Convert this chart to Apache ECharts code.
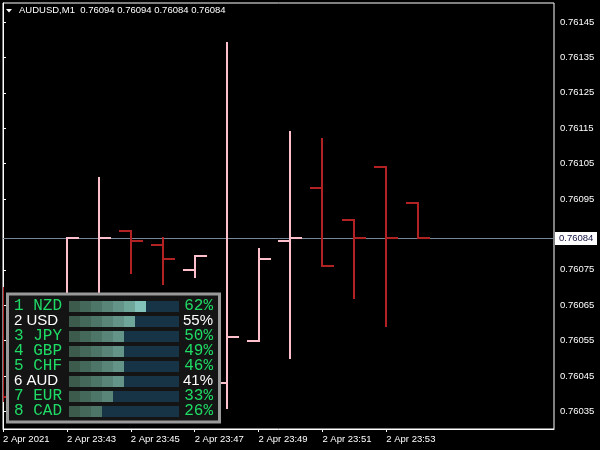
<!DOCTYPE html>
<html>
<head>
<meta charset="utf-8">
<script src="https://cdn.jsdelivr.net/npm/echarts@6/dist/echarts.min.js"></script>
<style>html,body{margin:0;padding:0;background:#000;}#c{width:600px;height:450px;}</style>
</head>
<body>
<div id="c"></div>
<script>
// ---- data ----
const times  = ["23:41","23:42","23:43","23:44","23:45","23:46","23:47","23:48","23:49","23:50","23:51","23:52","23:53","23:54"];
const opens  = [0.76068,0.76040,0.76058,0.76066,0.76086,0.76082,0.76075,0.76043,0.76055,0.76083,0.76098,0.76089,0.76104,0.76094];
const highs  = [0.76070,0.76060,0.76084,0.76101,0.76086,0.76084,0.76079,0.76139,0.76081,0.76114,0.76112,0.76089,0.76104,0.76094];
const lows   = [0.76038,0.76038,0.76057,0.76065,0.76074,0.76071,0.76073,0.76036,0.76055,0.76050,0.76076,0.76067,0.76059,0.76084];
const closes = [0.76039,0.76058,0.76084,0.76084,0.76083,0.76078,0.76079,0.76056,0.76078,0.76084,0.76076,0.76084,0.76084,0.76084];
const currentPrice = 0.76084;
const titleText = "AUDUSD,M1  0.76094 0.76094 0.76084 0.76084";

const yTickShown  = [0.76035,0.76045,0.76055,0.76065,0.76075,0.76095,0.76105,0.76115,0.76125,0.76135,0.76145];
const xTickTimes  = ["23:41","23:43","23:45","23:47","23:49","23:51","23:53"];
const xTickLabels = ["2 Apr 2021","2 Apr 23:43","2 Apr 23:45","2 Apr 23:47","2 Apr 23:49","2 Apr 23:51","2 Apr 23:53"];

const currencies = ["NZD","USD","JPY","GBP","CHF","AUD","EUR","CAD"];
const strengths  = [62,55,50,49,46,41,33,26];
const pairCurrencies = ["AUD","USD"];
const segColors = ["#3c5b4c","#44685a","#4e7668","#588577","#639487","#6fa69a","#82c2ba","#8fd0c8","#9cdcd4","#a8e6de"];

// ---- chart ----
const BULL = "#FFC0CB", BEAR = "#B22222";
const xTickIdx = xTickTimes.map(t => times.indexOf(t));
const ohlc = times.map((t, i) => [i, opens[i], highs[i], lows[i], closes[i]]);
const r = v => Math.round(v);
const richStyles = {
  g: {fontFamily: 'Liberation Mono', fontSize: 16, color: '#1fdc66'},
  w: {fontFamily: 'Liberation Sans', fontSize: 15, color: '#ffffff'}
};

const chart = echarts.init(document.getElementById('c'));
chart.setOption({
  backgroundColor: '#000',
  animation: false,
  grid: [
    {left: 2, right: 46, top: 3, bottom: 21, show: true, borderColor: '#fff', borderWidth: 1, backgroundColor: '#000', containLabel: false},
    {left: 69, width: 110, top: 298.5, height: 120, containLabel: false}
  ],
  xAxis: [
    {type: 'value', gridIndex: 0, min: 0, max: 17.25,
     splitLine: {show: false},
     axisLine: {show: true, lineStyle: {color: '#fff', width: 1}},
     axisTick: {show: true, length: 3, lineStyle: {color: '#fff'}, customValues: xTickIdx},
     axisLabel: {show: true, customValues: xTickIdx, color: '#fff', fontFamily: 'Liberation Sans', fontSize: 9.5, align: 'left', margin: 5,
       formatter: v => xTickLabels[xTickIdx.indexOf(Math.round(v))] || ''}},
    {type: 'value', gridIndex: 1, min: 0, max: 10, show: false}
  ],
  yAxis: [
    {type: 'value', gridIndex: 0, position: 'right', min: 0.7603003, max: 0.7615037,
     splitLine: {show: false},
     axisLine: {show: true, lineStyle: {color: '#fff', width: 1}},
     axisTick: {show: true, inside: false, length: 3, lineStyle: {color: '#fff'}, customValues: yTickShown},
     axisLabel: {show: true, customValues: yTickShown, color: '#fff', fontFamily: 'Liberation Sans', fontSize: 9.5, margin: 6,
       formatter: v => Number(v).toFixed(5)}},
    {type: 'category', gridIndex: 1, data: currencies, inverse: true, position: 'left', z: 20,
     axisLine: {show: false}, axisTick: {show: false}, splitLine: {show: false},
     axisLabel: {interval: 0, align: 'left', margin: 55,
       formatter: (v, i) => pairCurrencies.includes(v) ? '{w|' + (i + 1) + ' ' + v + '}' : '{g|' + (i + 1) + ' ' + v + '}',
       rich: richStyles}},
    {type: 'category', gridIndex: 1, data: strengths.map(s => s + '%'), inverse: true, position: 'right', z: 20,
     axisLine: {show: false}, axisTick: {show: false}, splitLine: {show: false},
     axisLabel: {interval: 0, align: 'right', margin: 34,
       formatter: (v, i) => pairCurrencies.includes(currencies[i]) ? '{w|' + v + '}' : '{g|' + v + '}',
       rich: richStyles}}
  ],
  graphic: [
    {type: 'polygon', z: 10, shape: {points: [[6, 9], [12, 9], [9, 12.5]]}, style: {fill: '#fff'}},
    {type: 'text', z: 10, left: 19, top: 5, style: {text: titleText, fill: '#fff', font: '9.5px "Liberation Sans"'}},
    {type: 'rect', z: 10, shape: {x: 7.5, y: 294, width: 212, height: 128}, style: {fill: '#141414', stroke: '#9a9a9a', lineWidth: 3}}
  ],
  series: [
    {type: 'custom', xAxisIndex: 0, yAxisIndex: 0, z: 2, clip: false, silent: true,
     data: [[times.length - 1, currentPrice]],
     renderItem: (params, api) => {
       const cs = params.coordSys;
       const y = r(api.coord([api.value(0), api.value(1)])[1]) + 0.5;
       const right = cs.x + cs.width;
       return {type: 'group', children: [
         {type: 'line', shape: {x1: cs.x, y1: y, x2: right, y2: y}, style: {stroke: '#778899', lineWidth: 1}},
         {type: 'rect', shape: {x: right + 1, y: y - 6.5, width: 42, height: 13}, style: {fill: '#fff'}},
         {type: 'text', x: right + 5, y: y, style: {text: api.value(1).toFixed(5), fill: '#101040',
           font: '9.5px "Liberation Sans"', verticalAlign: 'middle', textAlign: 'left'}}
       ]};
     }},
    {type: 'custom', xAxisIndex: 0, yAxisIndex: 0, z: 3, clip: true, data: ohlc,
     renderItem: (params, api) => {
       const x = api.value(0);
       const o = api.coord([x, api.value(1)]), h = api.coord([x, api.value(2)]);
       const l = api.coord([x, api.value(3)]), c = api.coord([x, api.value(4)]);
       const col = api.value(4) >= api.value(1) ? BULL : BEAR;
       const st = {stroke: col, lineWidth: 2};
       const cx = r(o[0]);
       return {type: 'group', children: [
         {type: 'line', shape: {x1: cx, y1: r(h[1]) - 1, x2: cx, y2: r(l[1]) + 1}, style: st},
         {type: 'line', shape: {x1: cx - 12, y1: r(o[1]), x2: cx, y2: r(o[1])}, style: st},
         {type: 'line', shape: {x1: cx, y1: r(c[1]), x2: cx + 12, y2: r(c[1])}, style: st}
       ]};
     }},
    {type: 'custom', xAxisIndex: 1, yAxisIndex: 1, z: 20, data: strengths.map((s, i) => [i, s]),
     renderItem: (params, api) => {
       const row = api.value(0), pct = api.value(1);
       const p0 = api.coord([0, row]), p10 = api.coord([10, row]);
       const hgt = 11;
       const y0 = r(p0[1] - hgt / 2);
       const kids = [{type: 'rect', shape: {x: r(p0[0]), y: y0, width: r(p10[0]) - r(p0[0]), height: hgt}, style: {fill: '#163446'}}];
       const n = Math.ceil(pct / 10);
       for (let k = 0; k < n; k++) {
         const a = api.coord([k, row]), b = api.coord([k + 1, row]);
         kids.push({type: 'rect', shape: {x: r(a[0]), y: y0, width: r(b[0]) - r(a[0]), height: hgt}, style: {fill: segColors[k]}});
       }
       return {type: 'group', children: kids};
     }}
  ]
});
</script>
</body>
</html>
